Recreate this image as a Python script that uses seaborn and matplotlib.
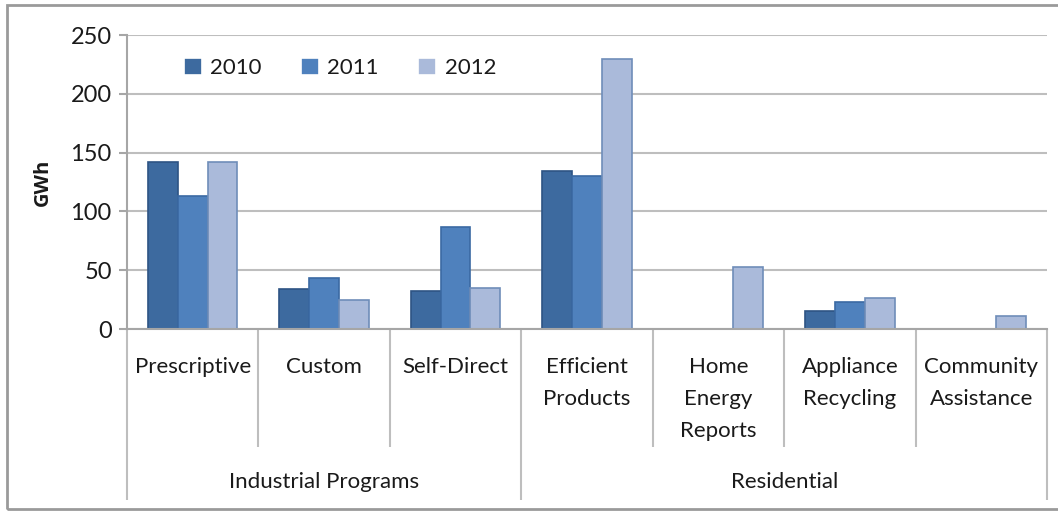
import numpy as np
import pandas as pd
import matplotlib
matplotlib.use("Agg")
import matplotlib.pyplot as plt
import matplotlib.transforms as mtransforms
from matplotlib.patches import Rectangle
import seaborn as sns

# ---- data ----
categories = ["Prescriptive", "Custom", "Self-Direct", "Efficient\nProducts",
              "Home\nEnergy\nReports", "Appliance\nRecycling", "Community\nAssistance"]
groups = ["Industrial Programs", "Residential"]
group_sizes = [3, 4]
years = ["2010", "2011", "2012"]
values_2010 = [142, 34, 32, 134, np.nan, 15, np.nan]
values_2011 = [113, 43, 87, 130, np.nan, 23, np.nan]
values_2012 = [142, 25, 35, 230, 53, 26, 11]
y_ticks = [0, 50, 100, 150, 200, 250]

rows = []
for yr, vals in zip(years, [values_2010, values_2011, values_2012]):
    for c, v in zip(categories, vals):
        rows.append({"category": c, "year": yr, "GWh": v})
df = pd.DataFrame(rows)

sns.set_theme(style="white")
plt.rcParams["font.family"] = ["Lato", "DejaVu Sans"]

W, H = 1058, 512
fig = plt.figure(figsize=(W / 100, H / 100), dpi=100)
ax_left, ax_right, ax_top, ax_bot = 127, 1047, 35, 329
ax = fig.add_axes([ax_left / W, 1 - ax_bot / H, (ax_right - ax_left) / W, (ax_bot - ax_top) / H])

palette = {"2010": "#3D6A9F", "2011": "#4F81BD", "2012": "#AABADA"}
edges = {"2010": "#2E5484", "2011": "#3B6AA3", "2012": "#6F8DB9"}

sns.barplot(data=df, x="category", y="GWh", hue="year", order=categories,
            hue_order=years, palette=palette, width=0.68, errorbar=None,
            saturation=1, ax=ax, linewidth=1.2)

for container, yr in zip(ax.containers, years):
    for bar in container:
        bar.set_edgecolor(edges[yr])

ax.set_ylim(0, 250)
ax.set_xlim(-0.5, len(categories) - 0.5)
ax.set_yticks(y_ticks)
ax.yaxis.grid(True, color="#BEBEBE", linewidth=1.5)
ax.set_axisbelow(True)
for s in ["top", "right"]:
    ax.spines[s].set_visible(False)
for s in ["left", "bottom"]:
    ax.spines[s].set_color("#A6A6A6")
    ax.spines[s].set_linewidth(1.5)

ax.tick_params(axis="y", left=True, length=6, width=1.5, color="#A6A6A6",
               labelsize=17, labelcolor="#1a1a1a", pad=5)
ax.set_xticks(range(len(categories)))
ax.set_xticklabels(categories, fontsize=16, color="#1a1a1a", linespacing=1.75,
                   va="top")
ax.tick_params(axis="x", bottom=False, length=0, pad=20.5)
ax.set_xlabel("")
ax.set_ylabel("GWh", fontsize=14.5, fontweight="bold", color="#1a1a1a", labelpad=13,
              family=["Open Sans", "DejaVu Sans"])

# multi-level category separators
trans = mtransforms.blended_transform_factory(ax.transData, ax.transAxes)
axh = ax_bot - ax_top
sub_end = -(447 - ax_bot) / axh
grp_end = -(500 - ax_bot) / axh
bounds = np.cumsum([0] + group_sizes) - 0.5
for i in range(len(categories) + 1):
    xb = i - 0.5
    yend = grp_end if xb in bounds else sub_end
    ax.plot([xb, xb], [0, yend], transform=trans, color="#BEBEBE", lw=1.5,
            clip_on=False, solid_capstyle="butt")
for g, a, b in zip(groups, bounds[:-1], bounds[1:]):
    ax.text((a + b) / 2, -(482 - ax_bot) / axh, g, transform=trans, ha="center",
            va="center", fontsize=16, color="#1a1a1a")

leg = ax.legend(loc="center left", bbox_to_anchor=(0.052, 0.888), ncol=3,
                frameon=False, fontsize=16, handlelength=0.8, handleheight=0.8,
                handletextpad=0.4, columnspacing=1.75, borderaxespad=0)
for t in leg.get_texts():
    t.set_color("#1a1a1a")

# outer chart frame
fig.patches.append(Rectangle((7 / W, 3 / H), 1.2, 1 - 8 / H, transform=fig.transFigure,
                             fill=False, edgecolor="#9A9A9A", linewidth=2))

fig.savefig("out.png", dpi=100)
